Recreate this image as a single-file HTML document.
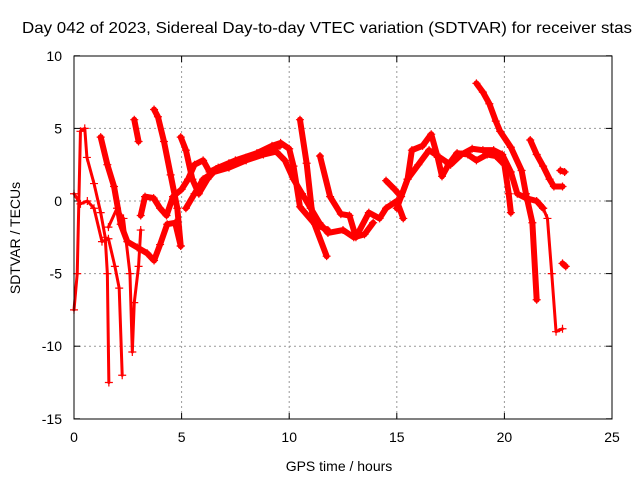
<!DOCTYPE html>
<html><head><meta charset="utf-8"><style>
body{margin:0;background:#fff;}
svg{display:block;font-family:"Liberation Sans",sans-serif;}
</style></head><body>
<svg id="chart" width="640" height="480">
<text x="22" y="33" font-size="16" text-anchor="start" textLength="610" lengthAdjust="spacingAndGlyphs">Day 042 of 2023, Sidereal Day-to-day VTEC variation (SDTVAR) for receiver stas</text>
<text x="339" y="471" font-size="14" text-anchor="middle">GPS time / hours</text>
<text transform="translate(20,238) rotate(-90)" font-size="14" text-anchor="middle">SDTVAR / TECUs</text>
<g id="grid"></g>
<g id="axes"></g>
<g id="marks"></g>
<rect x="74" y="56" width="538" height="363" fill="none" stroke="#000" stroke-width="1"/>
</svg>
<script>
const xTicks=[0,5,10,15,20,25];
const yTicks=[10,5,0,-5,-10,-15];
const s1=[[0,-7.5],[0.15,-5],[0.3,4.8],[0.5,5],[0.6,3],[0.93,1.2],[1.24,-0.8],[1.45,-2.5],[1.55,-5],[1.62,-12.5]];
const s2=[[0,0.5],[0.3,-0.2],[0.62,0],[0.93,-0.5],[1.3,-2.8],[1.6,-2.6],[1.9,-4.5],[2.1,-6],[2.24,-12]];
const s3=[[1.24,4.4],[1.55,2.5],[1.86,1.0],[2.17,-1.6],[2.48,-2.8],[2.94,-3.2],[3.4,-3.6],[3.72,-4.1],[4.0,-3],[4.33,-1.6],[4.7,-1.5],[4.96,-3.1]];
const s4=[[1.6,-1.8],[2.0,-0.5],[2.3,-1.2],[2.6,-5],[2.71,-10.4],[2.8,-7],[3.0,-4.5],[3.1,-2]];
const s5=[[2.8,5.6],[3.0,4.1]];
const s6=[[3.72,6.3],[3.9,5.8],[4.18,4.1],[4.49,1.8],[4.8,-0.5],[4.96,-3.1]];
const s7=[[3.1,-1],[3.3,0.3],[3.7,0.2],[4.0,-0.5],[4.3,-1.0],[4.6,0.3],[5.0,0.8],[5.3,1.5],[5.6,2.5],[6.0,2.8],[6.3,2.0],[6.7,2.3],[7.5,2.8],[8.5,3.3],[9.2,3.8],[9.6,4.0],[10.0,3.6],[10.2,2.4],[10.5,-0.4],[11.2,-1.6],[11.8,-2.0]];
const s8=[[4.96,4.4],[5.2,3.5],[5.5,1.5],[5.8,0.5],[6.2,1.5],[6.6,2.2],[7.2,2.6],[8.0,3.0],[9.0,3.5],[9.57,3.8]];
const s9=[[5.2,-0.5],[5.6,0.5],[6.0,1.5],[6.5,2.0],[7.2,2.3],[8.0,2.8],[8.8,3.2],[9.4,3.4],[9.8,2.8],[10.2,1.5],[10.6,0.5],[11.0,-0.5],[11.4,-1.5],[11.8,-2.2],[12.5,-2.0],[13.0,-2.5],[13.5,-2.3],[13.9,-1.5]];
const s10=[[10.5,5.6],[10.81,2.6],[11.1,-1.3],[11.74,-3.8]];
const s11=[[11.43,3.1],[11.9,0.3],[12.4,-0.9],[12.8,-1.0],[13.1,-2.5],[13.7,-0.8],[14.2,-1.2],[14.5,-0.5],[15.0,0],[15.3,-1.2]];
const s12=[[14.5,1.4],[14.9,0.8],[15.2,0.3],[15.5,1.5],[15.7,3.5],[16.2,3.8],[16.6,4.6],[16.9,3],[17.1,1.7],[17.4,2.5],[17.8,3.3],[18.3,3.2],[18.7,2.8],[19.2,3.2],[19.6,3.1],[20.0,2.5],[20.2,0.5],[20.3,-0.8]];
const s13=[[15.0,-0.5],[15.5,1.5],[16.0,2.5],[16.5,3.5],[17.0,3.0],[17.5,2.5],[18.0,3.2],[18.5,3.6],[19.0,3.5],[19.5,3.5],[19.9,3.2],[20.3,2.0],[20.6,0.5],[21.0,0.2],[21.5,0],[21.8,-0.5]];
const s14=[[18.7,8.1],[19.0,7.5],[19.3,6.7],[19.6,5.5],[19.8,4.8],[20.3,3.7],[20.8,2.1],[21.0,0.5],[21.3,-1.5],[21.5,-6.8]];
const s15=[[21.2,4.2],[21.5,3.2],[21.8,2.4],[22.1,1.5],[22.3,1.0],[22.7,1.0]];
const s16=[[21.8,-0.5],[22.0,-1.2],[22.2,-5],[22.4,-9.0],[22.7,-8.8]];
const s17=[[22.6,2.1],[22.8,2.0]];
const s18=[[22.7,-4.3],[22.85,-4.5]];
const series=[s1,s2,s3,s4,s5,s6,s7,s8,s9,s10,s11,s12,s13,s14,s15,s16,s17,s18];
const thin=[0,1,3,15];
const X=v=>74+v*(538/25), Y=v=>201-v*(363/25);
const NS="http://www.w3.org/2000/svg";
function mk(t,a,p){const e=document.createElementNS(NS,t);for(const k in a)e.setAttribute(k,a[k]);p.appendChild(e);return e;}
const grid=document.getElementById('grid'),axes=document.getElementById('axes'),marks=document.getElementById('marks');
xTicks.forEach(t=>{
 if(t>0&&t<25){const g=mk('line',{x1:X(t),x2:X(t),y1:56,y2:419,stroke:'#999','stroke-dasharray':'2,3','stroke-width':1},grid);
 
 }
 mk('line',{x1:X(t),x2:X(t),y1:419,y2:413,stroke:'#000'},axes);
 mk('line',{x1:X(t),x2:X(t),y1:56,y2:62,stroke:'#000'},axes);
 const l=mk('text',{x:X(t),y:442,'font-size':14,'text-anchor':'middle'},axes);l.textContent=t;
 
 
});
yTicks.forEach(t=>{
 if(t<10&&t>-15){const g=mk('line',{x1:74,x2:612,y1:Y(t),y2:Y(t),stroke:'#999','stroke-dasharray':'2,3','stroke-width':1},grid);
 
 }
 mk('line',{x1:74,x2:80,y1:Y(t),y2:Y(t),stroke:'#000'},axes);
 mk('line',{x1:606,x2:612,y1:Y(t),y2:Y(t),stroke:'#000'},axes);
 const l=mk('text',{x:62,y:Y(t)+5,'font-size':14,'text-anchor':'end'},axes);l.textContent=t;
 
 
});
series.forEach((s,i)=>{
 const w=thin.includes(i)?3:6;
 const pl=mk('polyline',{points:s.map(p=>X(p[0])+','+Y(p[1])).join(' '),fill:'none',stroke:'#f00','stroke-width':w,'stroke-linejoin':'round','stroke-linecap':'round'},marks);
 
 
 s.forEach(p=>{
  const x=X(p[0]),y=Y(p[1]);
  const m=mk('path',{d:`M${x-4},${y}H${x+4}M${x},${y-4}V${y+4}`,stroke:'#f00','stroke-width':1.2},marks);
  
  
 });
});
</script>
</body></html>
